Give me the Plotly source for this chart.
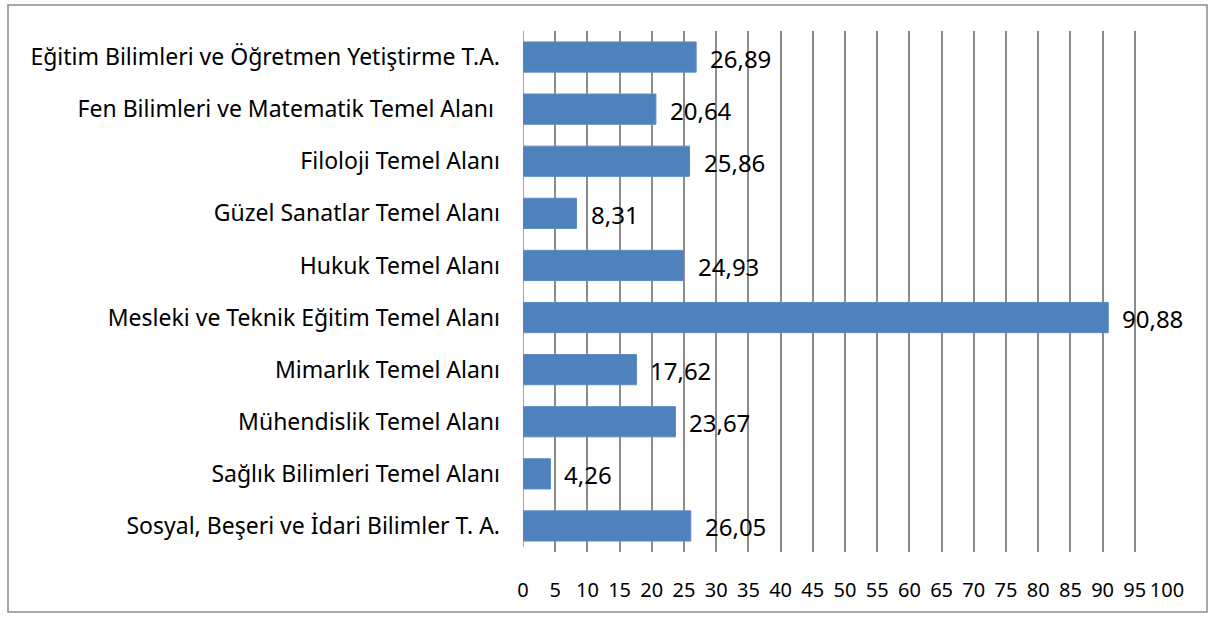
import plotly.graph_objects as go

categories = [
    "Eğitim Bilimleri ve Öğretmen Yetiştirme T.A.",
    "Fen Bilimleri ve Matematik Temel Alanı ",
    "Filoloji Temel Alanı",
    "Güzel Sanatlar Temel Alanı",
    "Hukuk Temel Alanı",
    "Mesleki ve Teknik Eğitim Temel Alanı",
    "Mimarlık Temel Alanı",
    "Mühendislik Temel Alanı",
    "Sağlık Bilimleri Temel Alanı",
    "Sosyal, Beşeri ve İdari Bilimler T. A.",
]
values = [26.89, 20.64, 25.86, 8.31, 24.93, 90.88, 17.62, 23.67, 4.26, 26.05]
tick_vals = list(range(0, 101, 5))
labels = [f"{v:.2f}".replace(".", ",") for v in values]

W, H = 1216, 619
L, R, T, B = 523, 49, 31, 67
FONT = "Noto Sans"
GRID = "#8C8C8C"

fig = go.Figure(go.Bar(
    y=categories, x=values, orientation="h",
    marker=dict(color="#4F81BD", line=dict(color="#5B8CC6", width=1)),
    width=0.58, hoverinfo="x+y",
))

for c, v, t in zip(categories, values, labels):
    fig.add_annotation(x=v, y=c, xref="x", yref="y", text=t, showarrow=False,
                       xanchor="left", xshift=12, yshift=-1,
                       font=dict(family=FONT, size=24, color="black"))

fig.update_layout(
    width=W, height=H,
    margin=dict(l=L, r=R, t=T, b=B, pad=0),
    paper_bgcolor="white", plot_bgcolor="rgba(0,0,0,0)",
    showlegend=False,
    font=dict(family=FONT, size=22, color="black"),
    xaxis=dict(range=[0, 100], tickvals=tick_vals, ticktext=[str(t) for t in tick_vals],
               showgrid=True, gridcolor=GRID, gridwidth=1.6, zeroline=False,
               showline=False, ticks="", ticklabelstandoff=24, tickangle=0,
               tickfont=dict(family=FONT, size=20)),
    yaxis=dict(autorange="reversed", showgrid=False, zeroline=False, showline=False,
               ticks="", ticklabelstandoff=22, tickfont=dict(family=FONT, size=23)),
)
# 0-line
fig.add_shape(type="line", xref="x", yref="paper", x0=0, x1=0, y0=0.01, y1=1,
              line=dict(color=GRID, width=1.6), layer="below")

pw = W - L - R
ph = H - T - B
bx0, bx1, by0, by1 = 8, 1207, 5, 612
fig.add_shape(type="rect", xref="paper", yref="paper",
              x0=(bx0 - L) / pw, x1=(bx1 - L) / pw,
              y0=(H - B - by1) / ph, y1=(H - B - by0) / ph,
              line=dict(color=GRID, width=1.5), fillcolor="rgba(0,0,0,0)")

fig.write_html("out.html", config={"displayModeBar": False},
               post_script="document.body.style.margin='0';document.body.style.overflow='hidden';")
